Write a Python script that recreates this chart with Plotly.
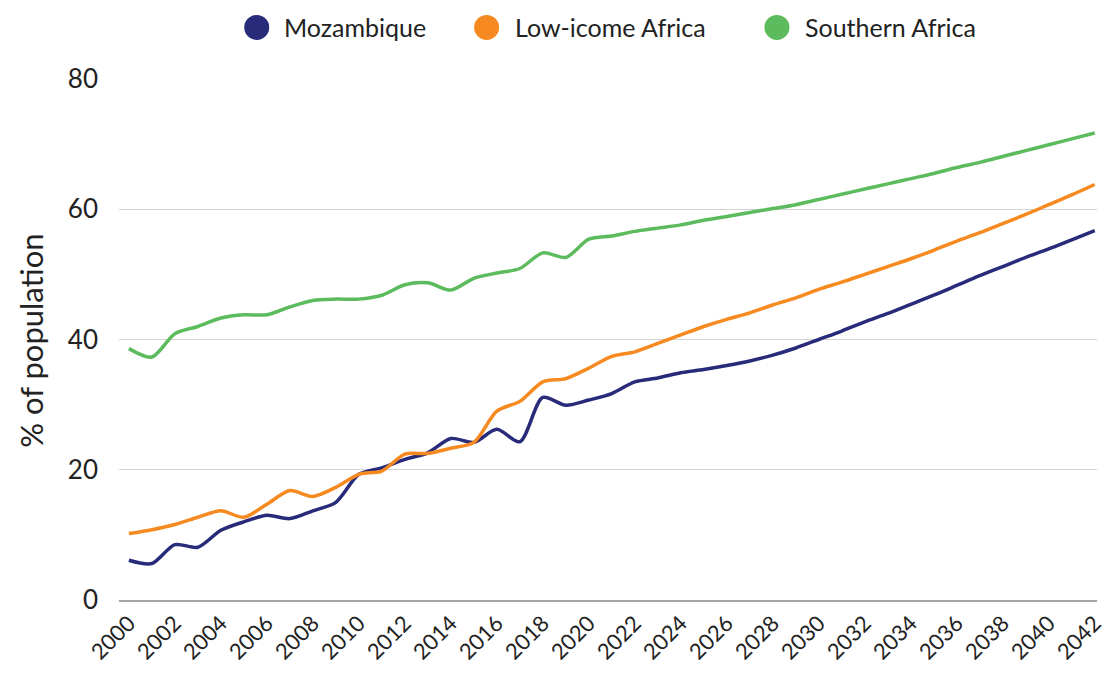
import plotly.graph_objects as go

# values (% of population)
years = list(range(2000, 2043))

mozambique = [6.1, 5.6, 8.5, 8.1, 10.7, 12.0, 13.0, 12.5, 13.7, 15.0,
              19.3, 20.3, 21.6, 22.6, 24.8, 24.2, 26.2, 24.3, 31.1, 29.9,
              30.7, 31.7, 33.5, 34.1, 34.9, 35.4, 36.0, 36.7, 37.6, 38.7,
              40.0, 41.3, 42.7, 44.0, 45.4, 46.8, 48.3, 49.8, 51.2, 52.6,
              53.9, 55.3, 56.7]

low_income_africa = [10.2, 10.8, 11.6, 12.7, 13.7, 12.7, 14.7, 16.8, 15.9, 17.3,
                     19.3, 19.8, 22.4, 22.5, 23.3, 24.2, 29.0, 30.5, 33.5, 34.0,
                     35.6, 37.4, 38.1, 39.4, 40.7, 42.0, 43.1, 44.1, 45.3, 46.4,
                     47.7, 48.8, 50.0, 51.2, 52.4, 53.7, 55.1, 56.4, 57.8, 59.2,
                     60.7, 62.2, 63.8]

southern_africa = [38.6, 37.3, 40.9, 42.0, 43.3, 43.8, 43.8, 45.0, 46.0, 46.2,
                   46.2, 46.8, 48.4, 48.7, 47.6, 49.4, 50.2, 50.9, 53.3, 52.6,
                   55.4, 55.9, 56.6, 57.1, 57.6, 58.3, 58.9, 59.5, 60.1, 60.7,
                   61.5, 62.3, 63.1, 63.9, 64.7, 65.5, 66.4, 67.2, 68.1, 69.0,
                   69.9, 70.8, 71.7]

series_names = ['Mozambique', 'Low-icome Africa', 'Southern Africa']
series_colors = ['#272b7a', '#f68a20', '#5cbb5c']
tick_years = list(range(2000, 2043, 2))

FONT = 'Lato, "Open Sans", sans-serif'

# the page body has an 8px margin; keep the figure inside the window so no scrollbars show up
W, H = 1098, 657
L, T, B = 111, 71, 61
plot_w = W - L
plot_h = H - T - B


def px(x):
    # figure x in pixels -> paper fraction
    return (x - L) / plot_w


def py(y):
    return (H - B - y) / plot_h


fig = go.Figure()
for name, vals, col in zip(series_names, [mozambique, low_income_africa, southern_africa], series_colors):
    fig.add_trace(go.Scatter(x=years, y=vals, mode='lines', name=name,
                             line=dict(color=col, width=3.5, shape='spline', smoothing=0.8),
                             showlegend=False))

# legend drawn by hand: big circles + labels above the plot
legend_circle_x = [250, 482, 775]
legend_text_x = [276, 509, 801]
legend_y = 19
shapes = []
annotations = []
for name, col, cx, tx in zip(series_names, series_colors, legend_circle_x, legend_text_x):
    shapes.append(dict(type='circle', xref='paper', yref='paper', xsizemode='pixel', ysizemode='pixel',
                       xanchor=px(cx), yanchor=py(legend_y), x0=-12.5, x1=12.5, y0=-12.5, y1=12.5,
                       fillcolor=col, line=dict(width=0)))
    annotations.append(dict(text=name, xref='paper', yref='paper', x=px(tx), y=py(legend_y),
                            xanchor='left', yanchor='middle', showarrow=False,
                            font=dict(family=FONT, size=25, color='#222222')))

annotations.append(dict(text='% of population', xref='paper', yref='paper', x=px(22), y=py(335),
                        xanchor='center', yanchor='middle', textangle=-90, showarrow=False,
                        font=dict(family=FONT, size=31, color='#222222')))

fig.update_layout(
    width=W, height=H,
    margin=dict(l=L, r=0, t=T, b=B),
    paper_bgcolor='white', plot_bgcolor='white',
    font=dict(family=FONT, color='#222222'),
    shapes=shapes, annotations=annotations,
    xaxis=dict(range=[1999.57, 2042.1], tickvals=tick_years, ticktext=[str(y) for y in tick_years],
               tickangle=-45, tickfont=dict(size=22), showgrid=False, zeroline=False,
               showline=True, linecolor='#a6a6a6', linewidth=1.5, ticks='',
               ticklabeloverflow='allow'),
    yaxis=dict(range=[0, 80], tickvals=[0, 20, 40, 60, 80], tickfont=dict(size=26),
               showgrid=True, gridcolor='#d4d4d4', gridwidth=1, zeroline=False,
               showline=False, ticks='', ticklabelstandoff=20),
)

fig.write_html("out.html")
